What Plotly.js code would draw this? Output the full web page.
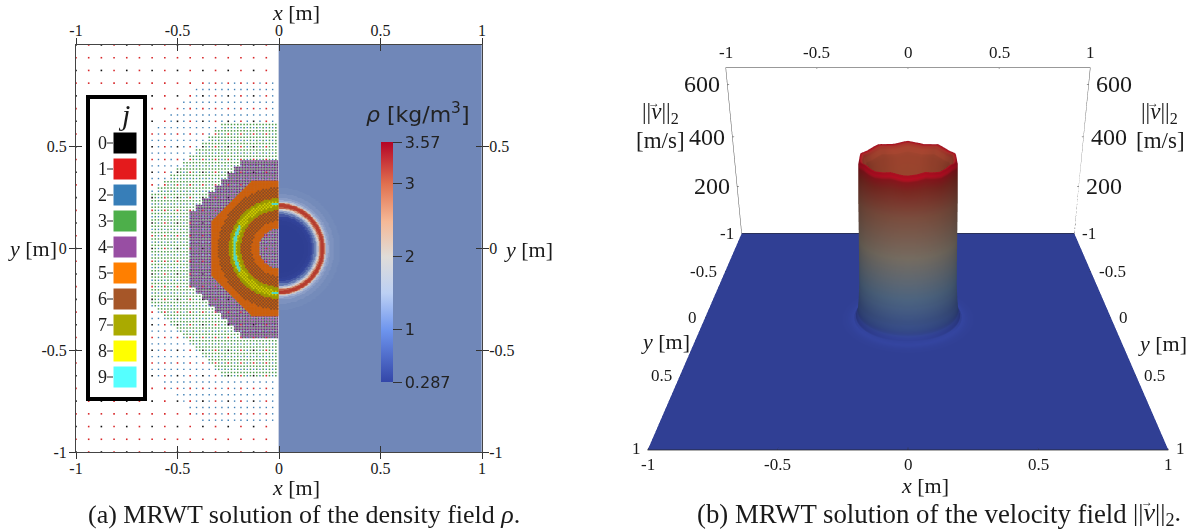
<!DOCTYPE html>
<html><head><meta charset="utf-8">
<script src="https://cdn.plot.ly/plotly-3.0.1.min.js"></script>
<style>html,body{margin:0;padding:0;background:#fff;overflow:hidden;width:1192px;height:531px}#plot{width:1192px;height:760px}</style>
</head><body><div id="plot"></div>
<script>
// ---------- values ----------
const xTicks = [-1,-0.5,0,0.5,1];
const xTickLabels = ['-1','-0.5','0','0.5','1'];
const yTicks = [-1,-0.5,0,0.5];
const yTickLabels = ['-1','-0.5','0','0.5'];
const levels = [0,1,2,3,4,5,6,7,8,9];
const levelColors = ['#111111','#d8282a','#3f7fb5','#4a9a48','#6f3a80','#cc600c','#8a4c24','#9a9a00','#d0d000','#50d8c8'];
const swatchColors = ['#000000','#e41a1c','#377eb8','#4daf4a','#984ea3','#ff7f00','#a65628','#aaaa00','#ffff00','#55ffff'];
const levelSpacing = [0.125,0.0625,0.03125,0.015625,0.0078125,0.0078125,0.0078125,0.0078125,0.0078125,0.0078125];
const levelOuter  = [9,9,0.84,0.63,0.43,0.33,0.30,0.245,0.232,0.226];
const levelInner  = [0,0,0,0,0,0.10,0.135,0.19,0.205,0.214];
const levelSize   = [1.6,1.6,1.4,1.5,1.5,2,1.8,2,1.6,2];
const cyanArcs = [[150,210],[60,100],[260,300]];   // degrees where the finest level shows
const rhoRadius = [0,0.10,0.12,0.14,0.15,0.16,0.17,0.18,0.185,0.19,0.195,0.2,0.205,0.21,0.215,0.22,0.223,0.227,0.232,0.24,0.25,0.27,0.3];
const rhoValue  = [0.29,0.29,0.33,0.42,0.52,0.68,0.92,1.3,1.65,2.0,2.5,3.1,3.5,3.57,3.5,3.1,2.4,1.8,1.45,1.25,1.12,1.04,1.0];
const rhoTicks = [0.287,1,2,3,3.57];
const rhoTickLabels = ['0.287','1','2','3','3.57'];
const zTicks = [200,400,600];
const zTop = 662;
const columnRadius = [0,0.05,0.10,0.14,0.17,0.19,0.205,0.218,0.224,0.228,0.230,0.232,0.235,0.24,0.246,0.255,0.265,0.28,0.30,0.34,0.40];
const columnSpeed  = [30,120,230,340,450,520,545,550,530,430,330,230,130,70,34,14,6,4,3,2,2];
const columnTone   = [660,660,660,660,650,630,600,570,530,430,330,230,130,70,34,14,22,14,6,0,0];
const rimRipple = [1,1.004,1.008,1.004,1,0.997,0.995,0.998,1,1.005,1.009,1.004,1,0.997,0.994,0.998,1,1.004,1.008,1.005,1,0.996,0.995,0.998,1,1.005,1.008,1.004,1,0.997,0.995,0.997,1,1.004,1.009,1.004,1,0.998,0.994,0.997,1,1.005,1.008,1.004,1,0.997,0.995,0.998,1,1.004,1.008,1.005,1,0.996,0.995,0.998,1,1.005,1.009,1.004,1,0.997,0.994,0.998,1,1.004,1.008,1.004,1,0.997,0.995,0.998];

// ---------- page geometry ----------
const H = 760, W = 1192;
const px = v => v / W, py = v => 1 - v / H;
const axisLine = '#444';
const serif = 'Liberation Serif, serif';

// ---------- level dots (left half) ----------
function octa(x, y){ return Math.max(Math.abs(x), Math.abs(y), (Math.abs(x)+Math.abs(y))/Math.SQRT2); }
function levelPoints(j){
  const h = levelSpacing[j], n = Math.round(1/h), X = [], Y = [];
  const block = j >= 5 ? 0 : 0.03125;
  for (let i = -n; i < 0; i++) for (let k = -n; k <= n; k++){
    if (j > 0 && j <= 4 && i % 2 === 0 && k % 2 === 0) continue;
    if ((j === 6 || j === 8) && (i + k) % 2 === 0) continue;
    const x = i*h, y = k*h;
    const bx = block ? (Math.floor(x/block)+0.5)*block : x;
    const by = block ? (Math.floor(y/block)+0.5)*block : y;
    const r = Math.hypot(x, y);
    const out = j <= 5 ? octa(bx, by) : r;
    if (out > levelOuter[j] || r < levelInner[j]) continue;
    if (j === 9){
      const a = (Math.atan2(y, x)*180/Math.PI + 360) % 360;
      if (!cyanArcs.some(c => a >= c[0] && a <= c[1])) continue;
    }
    if (j === 6 && r > 0.19 && r < 0.245) continue;
    X.push(x); Y.push(y);
  }
  return {X, Y};
}
const dotTraces = levels.map(j => {
  const p = levelPoints(j);
  return {type:'scatter', mode:'markers', x:p.X, y:p.Y, hoverinfo:'skip', showlegend:false,
    marker:{symbol:'square', size:levelSize[j], color:levelColors[j], line:{width:0}}};
});

// ---------- density field (right half) ----------
function rhoAt(r){ let v = rhoValue[0]; for (let i = 0; i < rhoRadius.length; i++) if (r >= rhoRadius[i]) v = rhoValue[i]; return v; }
const cellX = [], cellY = [];
for (let i = 0; i <= 280; i++) cellX.push(i/280);
for (let i = -280; i <= 280; i++) cellY.push(i/280);
const rhoField = cellY.map(y => cellX.map(x => rhoAt(Math.hypot(x, y))));
const fieldTrace = {type:'heatmap', x:cellX, y:cellY, z:rhoField, zsmooth:'best', showscale:false, hoverinfo:'skip',
  zmin:0.287, zmax:3.57,
  colorscale:[[0,'#2e3e92'],[0.08,'#33449a'],[0.217,'#7087b8'],[0.37,'#a6b4d4'],[0.522,'#d6d0cc'],[0.70,'#d49a80'],[0.826,'#c4684e'],[1,'#b53a2e']]};
const barTrace = {type:'scatter', mode:'markers', x:[0.5], y:[0], hoverinfo:'skip', showlegend:false,
  marker:{size:1, opacity:0, color:[1], cmin:0.287, cmax:3.57, showscale:true,
    colorscale:[[0,'#3346a8'],[0.217,'#6e95ee'],[0.37,'#bcd0f4'],[0.522,'#e0dcd8'],[0.67,'#f5b896'],[0.826,'#e0704f'],[1,'#b40426']],
    colorbar:{x:px(381), xanchor:'left', y:py(142), yanchor:'top', len:240, lenmode:'pixels', thickness:12, thicknessmode:'pixels',
      xpad:0, ypad:0, outlinewidth:0, ticks:'outside', ticklen:9, tickcolor:'#333', tickwidth:1,
      tickmode:'array', tickvals:rhoTicks, ticktext:rhoTickLabels, tickfont:{family:'DejaVu Sans', size:16, color:'#222'}}}};
const dummy = (xa, ya) => ({type:'scatter', x:[], y:[], xaxis:xa, yaxis:ya, showlegend:false, hoverinfo:'skip'});

// ---------- velocity surface ----------
const wy = v => -v;   // the picture's y axis points toward the viewer
const nTheta = rimRipple.length;
const colX = [], colY = [], colZ = [], colC = [];
columnRadius.forEach((r, i) => {
  const rx = [], ry = [], rz = [], rc = [];
  for (let t = 0; t <= nTheta; t++){
    const a = 2*Math.PI*t/nTheta;
    const rip = rimRipple[t % nTheta];
    const onRim = columnSpeed[i] > 500;
    rx.push(r*Math.cos(a)); ry.push(r*Math.sin(a));
    rz.push(columnSpeed[i]*(onRim ? rip : 1));
    rc.push(columnTone[i]);
  }
  colX.push(rx); colY.push(ry); colZ.push(rz); colC.push(rc);
});
const surfaceScale = [[0,'#303f94'],[0.03,'#3445a0'],[0.076,'#3d5599'],[0.227,'#5a7698'],[0.44,'#8a7f72'],[0.636,'#8f5a48'],[0.76,'#8c2e26'],[0.80,'#981a20'],[0.833,'#c00e24'],[0.87,'#a81020'],[0.93,'#a84430'],[1,'#a04a30']];
const lighting = {ambient:0.62, diffuse:0.5, specular:0, roughness:1, fresnel:0};
const lightposition = {x:0, y:-20000, z:7000};
const columnTrace = {type:'surface', x:colX, y:colY, z:colZ, surfacecolor:colC, cmin:0, cmax:660, colorscale:surfaceScale,
  showscale:false, hoverinfo:'skip', lighting, lightposition, scene:'scene'};
const floorTrace = {type:'surface', x:[-1,1], y:[-1,1], z:[[0,0],[0,0]], surfacecolor:[[0,0],[0,0]], cmin:0, cmax:660, colorscale:surfaceScale,
  showscale:false, hoverinfo:'skip', lighting, lightposition, scene:'scene'};
function seg3(points, color, width){
  const x = [], y = [], z = [];
  points.forEach(p => { if (p){ x.push(p[0]); y.push(wy(p[1])); z.push(p[2]); } else { x.push(null); y.push(null); z.push(null);} });
  return {type:'scatter3d', mode:'lines', x, y, z, line:{color, width}, hoverinfo:'skip', showlegend:false, scene:'scene'};
}
const frame = [
  seg3([[-1,-1,zTop],[1,-1,zTop]], '#999', 2),
  seg3([[-1,-1,0],[-1,-1,zTop],null,[1,-1,0],[1,-1,zTop]], '#555', 1),
  seg3([[-1,-1,0],[1,-1,0],null,[-1,1,0],[1,1,0]], '#222', 1.5)
];
const t3 = [];
xTicks.forEach(v => { t3.push([v,-1,zTop-5],[v,-1,zTop+5],null,[v,0.985,0],[v,1,0],null); });
yTicks.forEach(v => { t3.push([-1.012,v,0],[-0.99,v,0],null,[0.99,v,0],[1.012,v,0],null); });
zTicks.forEach(v => { t3.push([-1.01,-1,v],[-0.99,-1,v],null,[0.99,-1,v],[1.01,-1,v],null); });
frame.push(seg3(t3, '#333', 1));

// ---------- text ----------
const note = (x, y, text, size, extra) => Object.assign({xref:'paper', yref:'paper', x:px(x), y:py(y), text, showarrow:false,
  xanchor:'center', yanchor:'middle', font:{family:serif, size, color:'#1a1a1a'}}, extra||{});
const annotations = [
  note(296,13,'<i>x</i> [m]',22), note(296,487,'<i>x</i> [m]',22),
  note(32,248,'<i>y</i> [m]',22), note(528,249,'<i>y</i> [m]',22),
  note(925,485,'<i>x</i> [m]',22),
  note(665,342,'<i>y</i> [m]',22), note(1162,343,'<i>y</i> [m]',22),
  note(660,113,'||<i>v</i>||<sub>2</sub>',23), note(654,103,'→',12), note(660,140,'[m/s]',23),
  note(1159,113,'||<i>v</i>||<sub>2</sub>',23), note(1153,103,'→',12), note(1160,140,'[m/s]',23),
  note(86,514,'(a) MRWT solution of the density field <i>ρ</i>.',26,{xanchor:'left'}),
  note(695,514,'(b) MRWT solution of the velocity field',26.8,{xanchor:'left'}),
  note(1131,514,'||<i>v</i>||<sub>2</sub>.',26,{xanchor:'left'}),
  note(1147,502,'→',12),
  note(417,113,'<i>ρ</i> [kg/m<sup>3</sup>]',22,{font:{family:'DejaVu Sans',size:22,color:'#222'}}),
  note(124,115,'<i>j</i>',30)
];
const shapes = [
  {type:'rect', xref:'paper', yref:'paper', x0:px(88), x1:px(145), y0:py(97), y1:py(399), fillcolor:'#fff', line:{color:'#000', width:4}, layer:'above'}
];
levels.forEach(j => {
  const top = 132 + j*26;
  shapes.push({type:'rect', xref:'paper', yref:'paper', x0:px(113), x1:px(137), y0:py(top), y1:py(top+22), fillcolor:swatchColors[j], line:{color:'#fff', width:1}, layer:'above'});
  shapes.push({type:'line', xref:'paper', yref:'paper', x0:px(107), x1:px(113), y0:py(top+11), y1:py(top+11), line:{color:'#222', width:1}, layer:'above'});
  annotations.push(note(102, top+11, String(j), 18));
});

const tickFont = {family:serif, size:16, color:'#1a1a1a'};
const sceneNote = (x, y, z, text, size, xanchor, xshift, yshift) => ({x, y:wy(y), z, text, showarrow:false, xanchor, yanchor:'middle', xshift, yshift,
  font:{family:serif, size, color:'#1a1a1a'}});
const sceneNotes = [];
xTicks.forEach((v,i) => {
  sceneNotes.push(sceneNote(v,-1,zTop,xTickLabels[i],17,'center',0,15));
  sceneNotes.push(sceneNote(v,1,0,xTickLabels[i],17,'center',0,-14));
});
yTicks.forEach((v,i) => {
  sceneNotes.push(sceneNote(-1,v,0,yTickLabels[i],17,'right',-6,0));
  sceneNotes.push(sceneNote(1,v,0,yTickLabels[i],17,'left',6,0));
});
sceneNotes.push(sceneNote(-1,1,0,'1',17,'right',-5,2));
sceneNotes.push(sceneNote(1,1,0,'1',17,'left',6,2));
zTicks.forEach(v => {
  sceneNotes.push(sceneNote(-1,-1,v,String(v),24,'right',-5,0));
  sceneNotes.push(sceneNote(1,-1,v,String(v),24,'left',5,0));
});

const hiddenAxis = (range) => ({visible:false, range, autorange:false, showspikes:false, showbackground:false, showgrid:false, zeroline:false});
const base = {range:[-1,1], autorange:false, showgrid:false, zeroline:false, tickfont:tickFont, linecolor:axisLine, linewidth:1, tickcolor:'#333', tickwidth:1, ticklen:6, ticks:'outside', layer:'above traces', tickmode:'array'};
const dx = [px(76), px(482)], dy = [py(452), py(45)];
const layout = {
  width:W, height:H, margin:{l:0,r:0,t:0,b:0,pad:0}, paper_bgcolor:'#fff', plot_bgcolor:'#fff', showlegend:false,
  xaxis:Object.assign({}, base, {domain:dx, anchor:'y', side:'bottom', tickvals:xTicks, ticktext:xTickLabels, ticklabelstandoff:-4}),
  yaxis:Object.assign({}, base, {domain:dy, anchor:'x', side:'left', tickvals:yTicks, ticktext:yTickLabels, ticklabelstandoff:-1}),
  xaxis2:Object.assign({}, base, {overlaying:'x', anchor:'y', side:'top', tickvals:xTicks, ticktext:xTickLabels, ticklabelstandoff:-4}),
  yaxis2:Object.assign({}, base, {overlaying:'y', anchor:'x', side:'right', tickvals:yTicks, ticktext:yTickLabels, ticklabelstandoff:-3}),
  xaxis3:Object.assign({}, base, {overlaying:'x', anchor:'y', side:'bottom', ticks:'inside', mirror:'ticks', showticklabels:false, tickvals:xTicks}),
  yaxis3:Object.assign({}, base, {overlaying:'y', anchor:'x', side:'left', ticks:'inside', mirror:'ticks', showticklabels:false, tickvals:yTicks}),
  scene:{domain:{x:[624/W,1], y:[0,1]}, bgcolor:'#fff', aspectmode:'manual', aspectratio:{x:1,y:1.15,z:0.481},
    camera:{eye:{x:0,y:-2.033,z:0.7565}, center:{x:0,y:0,z:-0.4173}, up:{x:0,y:0,z:1}, projection:{type:'perspective'}},
    xaxis:hiddenAxis([-1,1]), yaxis:hiddenAxis([-1,1]), zaxis:hiddenAxis([0,zTop]), annotations:sceneNotes},
  annotations, shapes
};
const traces = [fieldTrace].concat(dotTraces, [barTrace, dummy('x2','y'), dummy('x','y2'), dummy('x3','y'), dummy('x','y3'), floorTrace, columnTrace], frame);
Plotly.newPlot('plot', traces, layout, {displayModeBar:false});
</script></body></html>
